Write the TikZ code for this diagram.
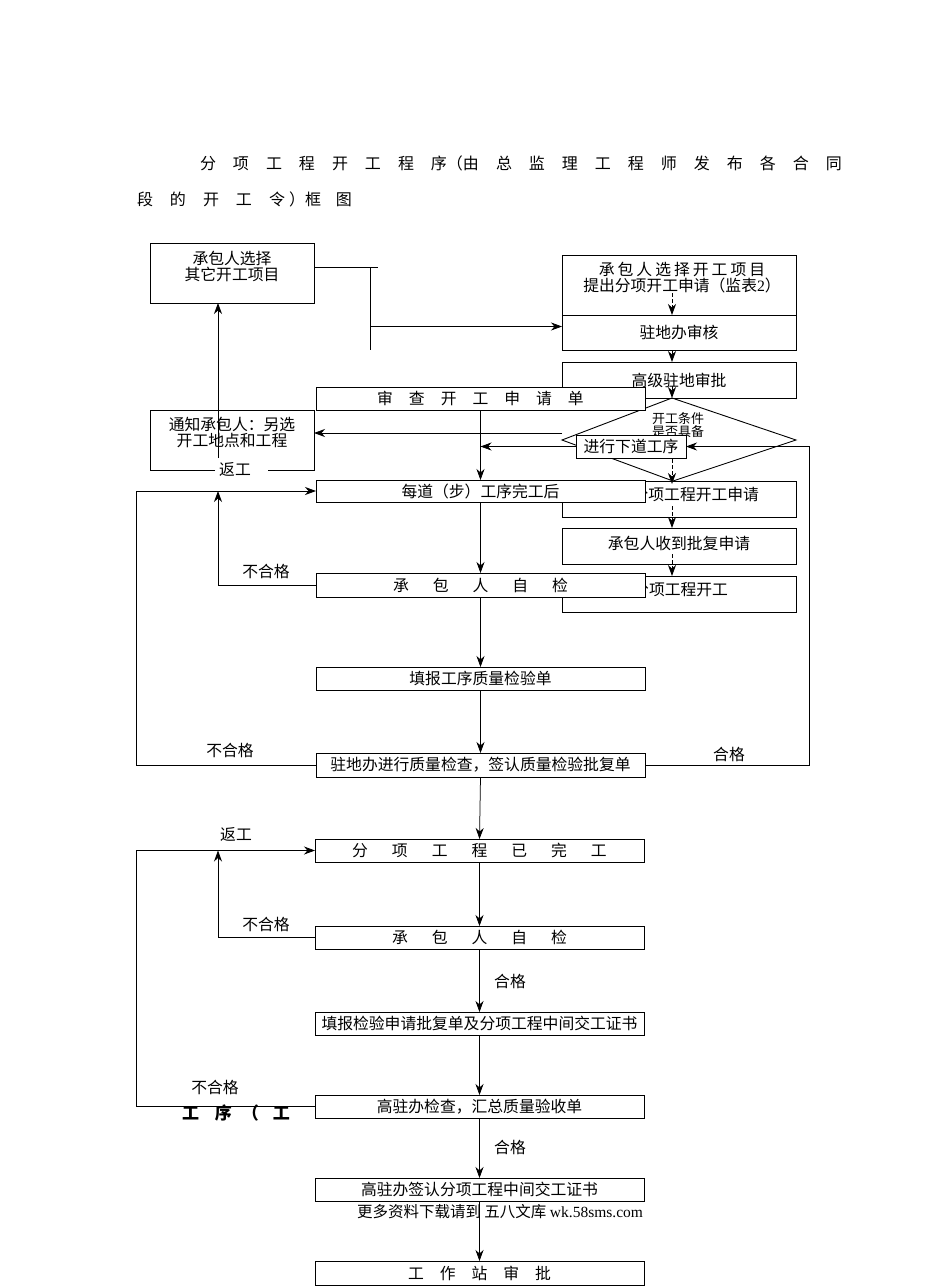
\documentclass[tikz,border=0pt]{standalone}
\usepackage{fontspec}
\setmainfont{Noto Sans CJK SC}
\newfontfamily\lat{Liberation Serif}
\usetikzlibrary{arrows.meta,calc}
\def\spacedtxt#1#2{\def\lsgap{#1}\lsfirst#2\relax}
\def\lsfirst#1{#1\lsrest}
\def\lsrest#1{\ifx#1\relax\else\hspace{\lsgap}#1\expandafter\lsrest\fi}
\begin{document}
\begin{tikzpicture}[x=1pt,y=-1pt,
  every node/.style={inner sep=0pt,outer sep=0pt},
  font=\fontsize{15.8}{16}\selectfont,
  box/.style={draw,line width=0.9pt,fill=white},
  ln/.style={line width=0.75pt},
  arr/.style={line width=0.75pt,-{Stealth[length=11pt,width=8pt,inset=3.5pt]}},
  darr/.style={arr,dash pattern=on 3.5pt off 2.5pt}]
\useasboundingbox (0,0) rectangle (950,1286);
\fill[white] (0,0) rectangle (950,1286);

% title
\node[anchor=west,font=\fontsize{16}{16}\selectfont] (t1) at (200,163)
  {\spacedtxt{17pt}{分项工程开工程序}（\spacedtxt{17pt}{由总监理工程师发布各合同}};
\node[anchor=west,font=\fontsize{16}{16}\selectfont] (t2) at (137,199)
  {\spacedtxt{17pt}{段的开工令}\hspace{4pt}）\spacedtxt{15pt}{框图}};

% hidden text fragment behind box O
\node[anchor=west,font=\bfseries\fontsize{17}{17}\selectfont] (hid2) at (182,1113)
  {\spacedtxt{16pt}{工序}\hspace{10pt}（\hspace{14pt}工};

% right column
\node[box,minimum width=234pt,minimum height=60pt] (B) at (679,285) {};
\node[align=center] (Bt) at (682,278) {\spacedtxt{3pt}{承包人选择开工项目}\\提出分项开工申请（监表{\lat 2}）};
\node[box,minimum width=234pt,minimum height=35pt] (C) at (679,332.5) {驻地办审核};
\node[box,minimum width=234pt,minimum height=36pt] (D) at (679,380) {高级驻地审批};
\node[box,minimum width=234pt,minimum height=36pt] (R1) at (679,499) {};
\node[anchor=east] (R1t) at (759,495) {分项工程开工申请};
\node[box,minimum width=234pt,minimum height=36pt] (R2) at (679,546) {};
\node (R2t) at (679,543) {承包人收到批复申请};
\node[box,minimum width=234pt,minimum height=36pt] (R3) at (679,594) {};
\node[anchor=east] (R3t) at (728,590) {分项工程开工};

% diamond
\coordinate (dT) at (672,398);
\coordinate (dL) at (562,440);
\coordinate (dR) at (796,440);
\coordinate (dB) at (673,481);
\draw[line width=0.9pt] (dT) -- (dR) -- (dB) -- (dL) -- cycle;
\node[align=center,font=\fontsize{13}{12.5}\selectfont] (dtxt) at (678,425) {开工条件\\是否具备};

% dashed arrows in right column
\coordinate (col) at (672,0);
\draw[darr] (col |- 0,293) -- (col |- C.north);
\draw[darr] (col |- C.south) -- (col |- D.north);
\draw[darr] (col |- 0,386) -- (dT);
\draw[darr] (col |- 0,459) -- ($(col |- R1.north)+(0,3)$);
\draw[darr] (col |- 0,506) -- (col |- R2.north);
\draw[darr] (col |- 0,554) -- (col |- R3.north);

% left boxes
\node[box,minimum width=164pt,minimum height=60pt] (A) at (232,273) {};
\node[align=center] (At) at (232,266) {承包人选择\\其它开工项目};
\node[minimum width=164pt,minimum height=60pt] (G) at (232,440) {};
\coordinate (gg1) at (215,470);
\coordinate (gg2) at (268,470);
\draw[line width=0.9pt] (gg1) -- (G.south west) -- (G.north west) -- (G.north east) -- (G.south east) -- (gg2);
\node[align=center] (Gt) at (232,432) {通知承包人：另选\\开工地点和工程};
\node (rw1) at (235,469) {返工};

% connectors from A
\coordinate (j1) at (378,267);
\coordinate (j2) at (370,267);
\coordinate (j3) at (370,350);
\draw[ln] ([yshift=6pt]A.east) -- (j1);
\draw[ln] (j2) -- (j3);
\coordinate (c1) at ($(C.west)+(0,-6)$);
\draw[arr] (j2 |- c1) -- (c1);

% middle column boxes (drawn over right column)
\node[box,minimum width=329pt,minimum height=23pt] (E) at (480.5,398.5) {\spacedtxt{16pt}{审查开工申请单}};
\node[box,minimum width=329pt,minimum height=22pt] (H) at (480.5,491) {每道（步）工序完工后};
\node[box,minimum width=329pt,minimum height=24pt] (I) at (480.5,585) {\spacedtxt{24pt}{承包人自检}};
\node[box,minimum width=329pt,minimum height=23pt] (J) at (480.5,678.5) {填报工序质量检验单};
\node[box,minimum width=329pt,minimum height=24pt] (K) at (480.5,765) {驻地办进行质量检查，签认质量检验批复单};
\node[box,minimum width=329pt,minimum height=23pt] (L) at (479.5,850.5) {\spacedtxt{24pt}{分项工程已完工}};
\node[box,minimum width=329pt,minimum height=23pt] (M) at (479.5,937.5) {\spacedtxt{24pt}{承包人自检}};
\node[box,minimum width=329pt,minimum height=23pt] (N) at (479.5,1023.5) {填报检验申请批复单及分项工程中间交工证书};
\node[box,minimum width=329pt,minimum height=23pt] (O) at (479.5,1106.5) {高驻办检查，汇总质量验收单};
\node[box,minimum width=329pt,minimum height=23pt] (P) at (479.5,1189.5) {高驻办签认分项工程中间交工证书};
\node[anchor=west,font=\fontsize{15.5}{16}\selectfont] (foot) at (357,1212) {更多资料下载请到 五八文库 {\lat wk.58sms.com}};
\node[box,minimum width=329pt,minimum height=24pt] (Q) at (479.5,1273) {\spacedtxt{16pt}{工作站审批}};

% connectors around diamond
\coordinate (g1) at ($(G.east)+(0,-7)$);
\draw[arr] (dL |- g1) -- (g1);
\node[box,minimum width=110pt,minimum height=23pt] (F) at (631,446.5) {进行下道工序};
\draw[arr] (F.west) -- (F.west -| E.south);
\coordinate (rr) at (809,0);
\draw[arr] (K.east) -| (rr |- F.east) -- (F.east);

% up arrow G -> A
\coordinate (gx) at (218,0);
\draw[arr] (gx |- 0,458) -- (gx |- A.south);

% main column arrows
\draw[arr] (E.south) -- (H.north);
\draw[arr] (H.south) -- (I.north);
\draw[arr] (I.south) -- (J.north);
\draw[arr] (J.south) -- (K.north);
\draw[arr] (K.south) -- (L.north);
\draw[arr] (L.south) -- (M.north);
\draw[arr] (M.south) -- (N.north);
\draw[arr] (N.south) -- (O.north);
\draw[arr] (O.south) -- (P.north);
\draw[arr] (P.south) -- (Q.north);

% return loops
\coordinate (lx) at (136,0);
\draw[arr] (I.west) -| (gx |- H.west);
\draw[arr] (K.west) -| (lx |- H.west) -- (H.west);
\draw[arr] (M.west) -| (gx |- L.west);
\draw[arr] (O.west) -| (lx |- L.west) -- (L.west);

% labels
\node (n1) at (266,571) {不合格};
\node (n2) at (230,750) {不合格};
\node (h1) at (729,754) {合格};
\node (rw2) at (236,834) {返工};
\node (n3) at (266,924) {不合格};
\node (h2) at (510,981) {合格};
\node (n4) at (215,1087) {不合格};
\node (h3) at (510,1147) {合格};
\end{tikzpicture}
\end{document}
